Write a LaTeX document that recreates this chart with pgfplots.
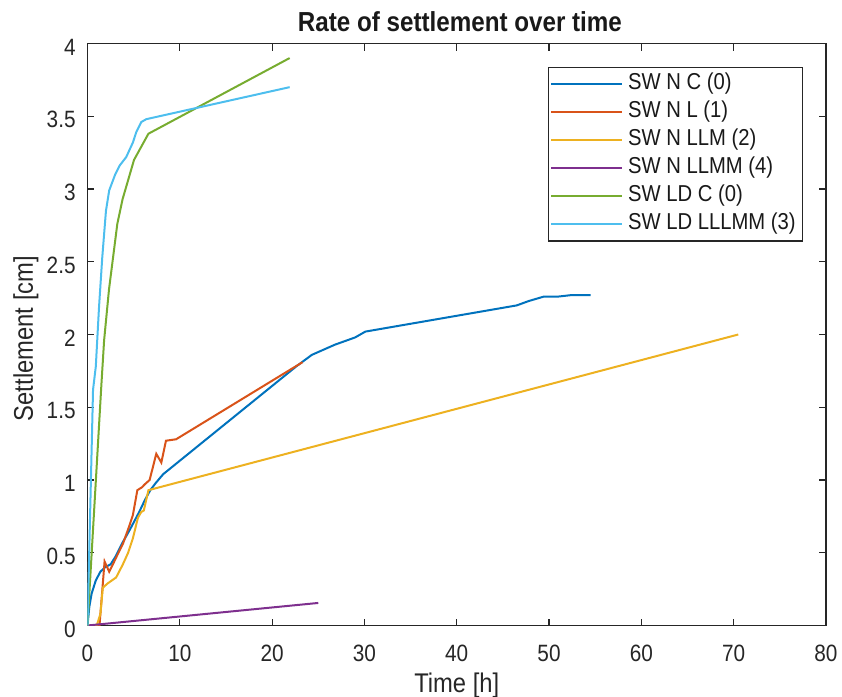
\documentclass[border=0pt]{standalone}
\usepackage{pgfplots}
\pgfplotsset{compat=1.18}
\usepackage{fontspec}
\setmainfont{Liberation Sans}[FakeStretch=0.88]

\definecolor{axgray}{RGB}{38,38,38}
\definecolor{mblue}{RGB}{0,114,189}
\definecolor{morange}{RGB}{217,83,25}
\definecolor{myellow}{RGB}{237,177,32}
\definecolor{mpurple}{RGB}{126,47,142}
\definecolor{mgreen}{RGB}{119,172,48}
\definecolor{mcyan}{RGB}{77,190,238}

\begin{document}
\begin{tikzpicture}
\path[use as bounding box] (-43.75pt,-35.75pt) rectangle (377.25pt,312.75pt);
\begin{axis}[
  at={(0pt,0pt)}, anchor=south west,
  scale only axis, width=369.25pt, height=291pt,
  xmin=0, xmax=80, ymin=0, ymax=4,
  xtick={0,10,20,30,40,50,60,70,80},
  ytick={0,0.5,1,1.5,2,2.5,3,3.5,4},
  /pgf/number format/assume math mode=true,
  /pgf/number format/fixed,
  tick align=inside,
  major tick length=3.5pt,
  every tick/.style={axgray, line width=0.6pt},
  axis line style={axgray, line width=0.6pt},
  tick label style={font=\fontsize{11.8}{14}\selectfont, text=axgray},
  xticklabel style={anchor=base, yshift=-18.1pt},
  yticklabel style={anchor=east, inner sep=0pt, xshift=-5.75pt, yshift=-1.8pt},
  title={Rate of settlement over time},
  title style={font=\bfseries\fontsize{13.75}{16}\selectfont, text=black!90,
    at={(axis description cs:0.5,1)}, anchor=base, xshift=1.6pt},
  xlabel={Time [h]},
  xlabel style={font=\fontsize{13.5}{16}\selectfont, text=axgray,
    at={(axis description cs:0.5,0)}, anchor=base, yshift=-33.6pt},
  ylabel={Settlement [cm]},
  ylabel style={font=\fontsize{13.5}{16}\selectfont, text=axgray,
    at={(axis description cs:-0.0833,0.493)}, anchor=center},
  legend style={at={(rel axis cs:0.9693,0.960)}, anchor=north east,
    draw=axgray, line width=0.6pt, fill=white,
    inner xsep=1pt, inner ysep=1.4pt, row sep=0pt,
    font=\fontsize{11.5}{13}\selectfont, text=black!90,
    nodes={inner xsep=2.5pt, inner ysep=0pt, text height=9.5pt, text depth=4.5pt}},
  legend cell align=left,
  legend image code/.code={
    \path (-0.5pt,0pt) -- (35pt,0pt);
    \draw[#1] (0pt,0pt) -- (33pt,0pt);},
  every axis plot/.append style={line width=1pt},
]

% SW N C (0)
\addplot[mblue] coordinates {
 (0,0) (0.2,0.13) (0.45,0.22) (0.9,0.31) (1.4,0.37) (1.9,0.40) (2.5,0.42)
 (3.0,0.47) (3.8,0.57) (4.6,0.66) (5.6,0.78) (6.2,0.86) (6.8,0.93) (7.4,0.98)
 (8.2,1.04) (22.6,1.78) (24.3,1.86) (26.8,1.93) (29,1.98) (30.1,2.02)
 (46.5,2.20) (47.8,2.23) (49.4,2.26) (50.9,2.26) (52.3,2.27) (54.5,2.27)
};
\addlegendentry{SW N C (0)}

% SW N L (1)
\addplot[morange] coordinates {
 (0,0) (1.3,0) (1.85,0.44) (2.35,0.37) (2.75,0.42) (3.2,0.48) (3.83,0.56)
 (4.56,0.69) (4.92,0.76) (5.4,0.93) (5.9,0.95) (6.2,0.97) (6.73,1.0)
 (7.45,1.18) (8.0,1.12) (8.5,1.27) (9.6,1.28) (23.3,1.81)
};
\addlegendentry{SW N L (1)}

% SW N LLM (2)
\addplot[myellow] coordinates {
 (0,0) (1.0,0) (1.4,0.08) (1.66,0.26) (2.2,0.29) (3.1,0.33) (3.83,0.42)
 (4.4,0.50) (4.92,0.60) (5.46,0.74) (5.82,0.78) (6.1,0.79) (6.6,0.93)
 (70.5,2.0)
};
\addlegendentry{SW N LLM (2)}

% SW N LLMM (4)
\addplot[mpurple] coordinates {
 (0,0) (25,0.155)
};
\addlegendentry{SW N LLMM (4)}

% SW LD C (0)
\addplot[mgreen] coordinates {
 (0,0) (1.5,1.65) (1.8,1.96) (2.33,2.31) (2.87,2.58) (3.23,2.76) (3.8,2.93)
 (5.04,3.20) (6.6,3.38) (21.9,3.9)
};
\addlegendentry{SW LD C (0)}

% SW LD LLLMM (3)
\addplot[mcyan] coordinates {
 (0,0) (0.6,1.62) (0.9,1.78) (1.25,2.19) (1.6,2.53) (2.0,2.85) (2.35,2.99)
 (3.0,3.10) (3.47,3.16) (4.2,3.22) (4.92,3.32) (5.28,3.39) (5.82,3.46)
 (6.37,3.48) (21.9,3.70)
};
\addlegendentry{SW LD LLLMM (3)}

\end{axis}
\end{tikzpicture}
\end{document}
